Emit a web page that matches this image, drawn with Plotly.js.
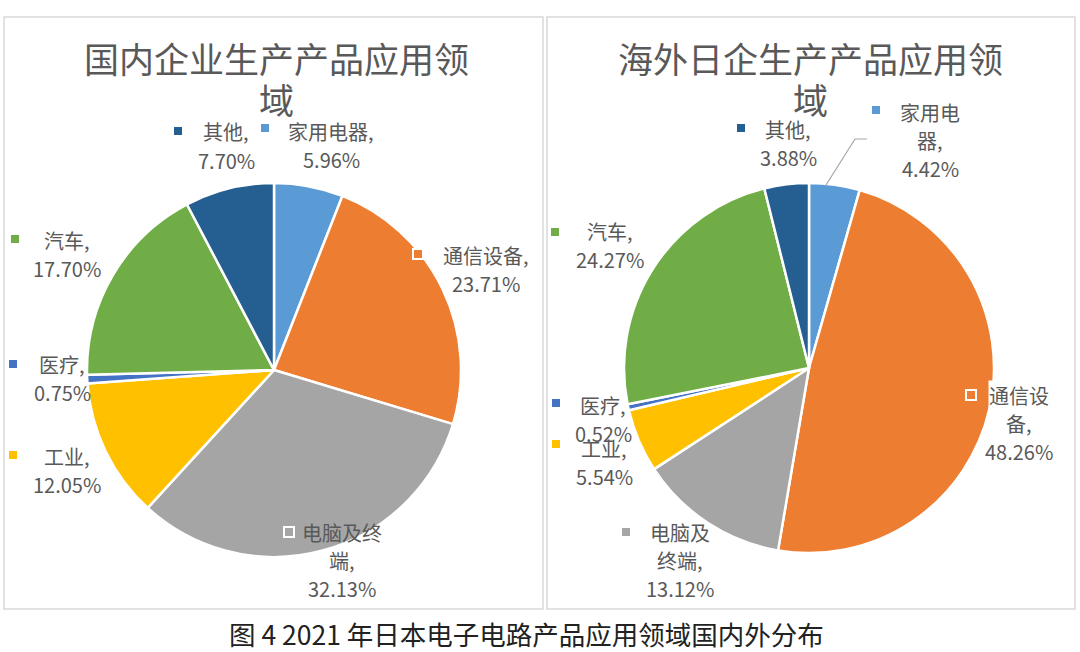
<!DOCTYPE html>
<html>
<head>
<meta charset="utf-8">
<script src="https://cdn.plot.ly/plotly-3.0.1.min.js"></script>
<style>
  html, body { margin: 0; padding: 0; background: #fff; }
  #chart { width: 1080px; height: 652px; }
</style>
</head>
<body>
<div id="chart"></div>
<script>
// 2021 年日本电子电路产品应用领域国内外分布
const categories = ['家用电器', '通信设备', '电脑及终端', '工业', '医疗', '汽车', '其他'];
const domestic = [5.96, 23.71, 32.13, 12.05, 0.75, 17.70, 7.70];   // 国内企业
const overseas = [4.42, 48.26, 13.12, 5.54, 0.52, 24.27, 3.88];    // 海外日企
const colors = ['#5B9BD5', '#ED7D31', '#A5A5A5', '#FFC000', '#4472C4', '#70AD47', '#255E91'];
const titles = [['国内企业生产产品应用领', '域'], ['海外日企生产产品应用领', '域']];
const caption = '图 4 2021 年日本电子电路产品应用领域国内外分布';

const W = 1080, H = 652;
const px = x => x / W;
const py = y => 1 - y / H;

// 饼图位置 (像素)
const pies = [
  { cx: 274, cy: 370, r: 187 },
  { cx: 809, cy: 368, r: 185 }
];

// 标签位置: 文本中心 x, 第一行 y, 图例方块 x/y, 每行字数
const labelPos = [
  [ // 国内
    { cx: 331, y: 131, kx: 265, ky: 128, wrap: 5 },
    { cx: 486, y: 255, kx: 418, ky: 254, wrap: 5, bg: true },
    { cx: 342, y: 532, kx: 289, ky: 532, wrap: 4 },
    { cx: 67,  y: 456, kx: 13,  ky: 455, wrap: 5 },
    { cx: 62,  y: 364, kx: 13,  ky: 364, wrap: 5 },
    { cx: 67,  y: 240, kx: 15,  ky: 239, wrap: 5 },
    { cx: 226, y: 132, kx: 178, ky: 131, wrap: 5 }
  ],
  [ // 海外
    { cx: 930, y: 112, kx: 876, ky: 110, wrap: 3 },
    { cx: 1019, y: 395, kx: 971, ky: 395, wrap: 3, bg: true },
    { cx: 680, y: 532, kx: 626, ky: 532, wrap: 3 },
    { cx: 604, y: 448, kx: 556, ky: 444, wrap: 5 },
    { cx: 603, y: 405, kx: 556, ky: 403, wrap: 5 },
    { cx: 610, y: 232, kx: 555, ky: 232, wrap: 5 },
    { cx: 788, y: 130, kx: 741, ky: 128, wrap: 5 }
  ]
];

const labelFont = { family: 'Noto Sans CJK SC, sans-serif', size: 20, color: '#595959' };
const lineGap = 28;

const data = [domestic, overseas].map((vals, k) => ({
  type: 'pie',
  labels: categories,
  values: vals,
  sort: false,
  direction: 'clockwise',
  rotation: 0,
  textinfo: 'none',
  hoverinfo: 'label+percent',
  showlegend: false,
  marker: { colors: colors, line: { color: '#ffffff', width: 2.5 } },
  domain: {
    x: [px(pies[k].cx - pies[k].r), px(pies[k].cx + pies[k].r)],
    y: [py(pies[k].cy + pies[k].r), py(pies[k].cy - pies[k].r)]
  }
}));

const annotations = [];
const shapes = [];

// 外框
[[4, 17, 543, 609], [547, 17, 1075, 609]].forEach(b => {
  shapes.push({
    type: 'rect', xref: 'paper', yref: 'paper',
    x0: px(b[0]), x1: px(b[2]), y0: py(b[3]), y1: py(b[1]),
    line: { color: '#d9d9d9', width: 1.5 }, fillcolor: 'rgba(0,0,0,0)'
  });
});

// 标题 (两行)
titles.forEach((t, k) => {
  t.forEach((ln, j) => {
    annotations.push({
      xref: 'paper', yref: 'paper',
      x: px(k === 0 ? 276 : 810), y: py(j === 0 ? 57 : 98),
      xanchor: 'center', yanchor: 'middle',
      text: ln, showarrow: false,
      font: { family: 'Noto Sans CJK SC, sans-serif', size: 35, color: '#595959' }
    });
  });
});

// 数据标签
[domestic, overseas].forEach((vals, k) => {
  categories.forEach((cat, i) => {
    const p = labelPos[k][i];
    const name = cat + ',';
    const lines = [];
    for (let s = 0; s < name.length; s += p.wrap) {
      lines.push(name.slice(s, s + p.wrap));
    }
    // 逗号不单独成行
    if (lines.length > 1 && lines[lines.length - 1] === ',') {
      lines.pop();
      lines[lines.length - 1] += ',';
    }
    lines.push(vals[i].toFixed(2) + '%');
    lines.forEach((ln, j) => {
      annotations.push({
        xref: 'paper', yref: 'paper',
        x: px(p.cx), y: py(p.y + j * lineGap),
        xanchor: 'center', yanchor: 'middle',
        text: ln, showarrow: false,
        bgcolor: p.bg ? '#ffffff' : 'rgba(0,0,0,0)',
        borderpad: 0,
        font: labelFont
      });
    });
    shapes.push({
      type: 'rect', xref: 'paper', yref: 'paper',
      x0: px(p.kx - 5), x1: px(p.kx + 5), y0: py(p.ky + 5), y1: py(p.ky - 5),
      fillcolor: colors[i], line: { color: '#ffffff', width: 2 }
    });
  });
});

// 引导线 (海外 家用电器)
shapes.push({
  type: 'path', xref: 'paper', yref: 'paper',
  path: `M ${px(867)} ${py(139)} L ${px(855)} ${py(139)} L ${px(826)} ${py(185)}`,
  line: { color: '#a6a6a6', width: 1.2 }
});

// 图注
annotations.push({
  xref: 'paper', yref: 'paper',
  x: px(526), y: py(633),
  xanchor: 'center', yanchor: 'middle',
  text: caption, showarrow: false,
  font: { family: 'Noto Sans CJK SC, sans-serif', size: 26.5, color: '#222222' }
});

const layout = {
  width: W, height: H,
  margin: { l: 0, r: 0, t: 0, b: 0 },
  paper_bgcolor: '#ffffff',
  plot_bgcolor: '#ffffff',
  shapes: shapes,
  annotations: annotations
};

Plotly.newPlot('chart', data, layout, { displayModeBar: false, staticPlot: true });
</script>
</body>
</html>
